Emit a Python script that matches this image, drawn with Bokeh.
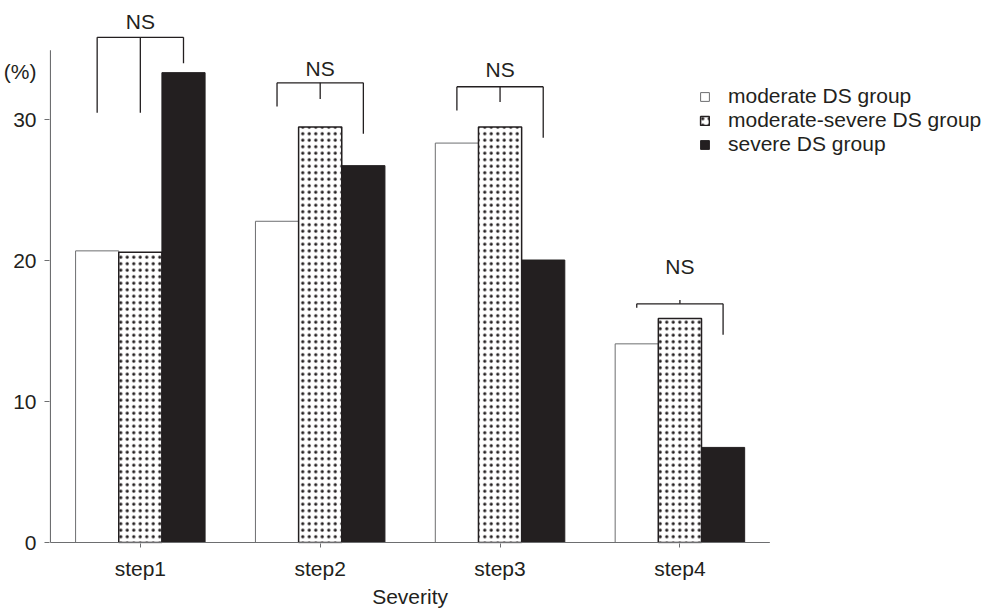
import numpy as np
from bokeh.plotting import figure
from bokeh.models import Range1d, FixedTicker, Legend, LegendItem, LinearAxis
from bokeh.core.properties import value
from bokeh.embed import file_html
from bokeh.resources import INLINE

# ---- data ----
categories = ["step1", "step2", "step3", "step4"]
series_names = ["moderate DS group", "moderate-severe DS group", "severe DS group"]
moderate = [20.7, 22.8, 28.35, 14.1]
moderate_severe = [20.6, 29.5, 29.5, 15.9]
severe = [33.35, 26.75, 20.05, 6.75]
y_ticks = [0, 10, 20, 30]
y_unit_label = "(%)"
y_unit_label_pos = 33.4
x_title = "Severity"

# significance brackets (NS) per category
bracket_top = [35.86, 32.63, 32.35, 16.94]
bracket_left_end = [30.50, 30.94, 30.66, 16.66]
bracket_mid_end = [30.50, 31.48, 31.27, 17.22]
bracket_right_end = [34.02, 29.01, 28.73, 14.75]
ns_label_y = [36.95, 33.65, 33.6, 19.6]
ns_labels = ["NS", "NS", "NS", "NS"]

y_axis_top = 34.94

# ---- style ----
FONT = "Liberation Sans"
INK = "#231f20"
AXIS = "#6d6e70"
BAR_W = 0.24
FS = "21px"
PX_PER_X = 181.0
PX_PER_Y = 14.167

W, H = 998, 610
LEFT, BOTTOM_PX = 43, 546
frame_w = W - LEFT
frame_h = BOTTOM_PX
x0 = -0.005
y0 = -0.07

centers = np.arange(len(categories)) + 0.5

p = figure(width=W, height=H, output_backend="svg", toolbar_location=None,
           x_range=Range1d(x0, x0 + frame_w / PX_PER_X),
           y_range=Range1d(y0, y0 + frame_h / PX_PER_Y),
           min_border_left=LEFT, min_border_right=0, min_border_top=0,
           min_border_bottom=H - BOTTOM_PX)
p.outline_line_color = None
p.xgrid.visible = False
p.ygrid.visible = False

r1 = p.vbar(x=centers - BAR_W, top=moderate, width=BAR_W, fill_color="white",
            line_color=AXIS, line_width=1)
r2 = p.vbar(x=centers, top=moderate_severe, width=BAR_W, fill_color="white",
            line_color=INK, line_width=1.5, hatch_pattern="dot", hatch_color=INK,
            hatch_scale=6.5, hatch_weight=1)
r3 = p.vbar(x=centers + BAR_W, top=severe, width=BAR_W, fill_color=INK,
            line_color=INK, line_width=1)

# brackets
p.segment(x0=centers - BAR_W, x1=centers + BAR_W, y0=bracket_top, y1=bracket_top,
          line_color=INK, line_width=1.3)
vx = np.concatenate([centers - BAR_W, centers, centers + BAR_W])
vy0 = bracket_top * 3
vy1 = bracket_left_end + bracket_mid_end + bracket_right_end
p.segment(x0=vx, x1=vx, y0=vy0, y1=vy1, line_color=INK, line_width=1.3)
p.text(x=centers, y=ns_label_y, text=ns_labels, text_font=value(FONT),
       text_font_size=FS, text_align="center", text_baseline="middle",
       text_color=INK)

# axis lines, drawn only as far as the reference draws them
p.segment(x0=[0], x1=[0], y0=[0], y1=[y_axis_top], line_color=AXIS, line_width=1.2)
p.segment(x0=[0], x1=[len(categories)], y0=[0], y1=[0], line_color=AXIS,
          line_width=1.2)

# y axis: tick marks as minor ticks, labels (incl. unit) as major labels
p.yaxis.ticker = FixedTicker(ticks=y_ticks + [y_unit_label_pos], minor_ticks=y_ticks)
p.yaxis.major_label_overrides = {y_unit_label_pos: y_unit_label}
p.yaxis.axis_line_color = None
p.yaxis.major_tick_line_color = None
p.yaxis.major_tick_out = 0
p.yaxis.major_tick_in = 0
p.yaxis.minor_tick_out = 5
p.yaxis.minor_tick_in = 0
p.yaxis.minor_tick_line_color = AXIS
p.yaxis.minor_tick_line_width = 1.2
p.yaxis.major_label_text_font = FONT
p.yaxis.major_label_text_font_size = FS
p.yaxis.major_label_text_color = INK
p.yaxis.major_label_standoff = 8

p.xaxis.ticker = FixedTicker(ticks=[float(c) for c in centers])
p.xaxis.major_label_overrides = {float(c): cat for c, cat in zip(centers, categories)}
p.xaxis.axis_line_color = None
p.xaxis.major_tick_out = 4
p.xaxis.major_tick_in = 0
p.xaxis.minor_tick_line_color = None
p.xaxis.major_tick_line_color = AXIS
p.xaxis.major_label_text_font = FONT
p.xaxis.major_label_text_font_size = FS
p.xaxis.major_label_text_color = INK
p.xaxis.major_label_standoff = 9

# axis title placed under the category labels, centred on the data span
title_x = len(categories) / 2
title_axis = LinearAxis(ticker=FixedTicker(ticks=[title_x]),
                        major_label_overrides={title_x: x_title},
                        axis_line_color=None, major_tick_line_color=None,
                        minor_tick_line_color=None, major_tick_out=0,
                        major_label_standoff=2, major_label_text_font=FONT,
                        major_label_text_font_size=FS,
                        major_label_text_color=INK)
p.add_layout(title_axis, "below")

legend = Legend(items=[LegendItem(label=series_names[0], renderers=[r1]),
                       LegendItem(label=series_names[1], renderers=[r2]),
                       LegendItem(label=series_names[2], renderers=[r3])],
                location=(650, 387), orientation="vertical",
                glyph_width=11, glyph_height=11, label_standoff=18,
                label_text_font=FONT, label_text_font_size=FS,
                label_text_color=INK, label_height=22, padding=0, margin=0,
                spacing=0, border_line_color=None, background_fill_alpha=0)
p.add_layout(legend)

open("out.html", "w").write(file_html(p, INLINE))
